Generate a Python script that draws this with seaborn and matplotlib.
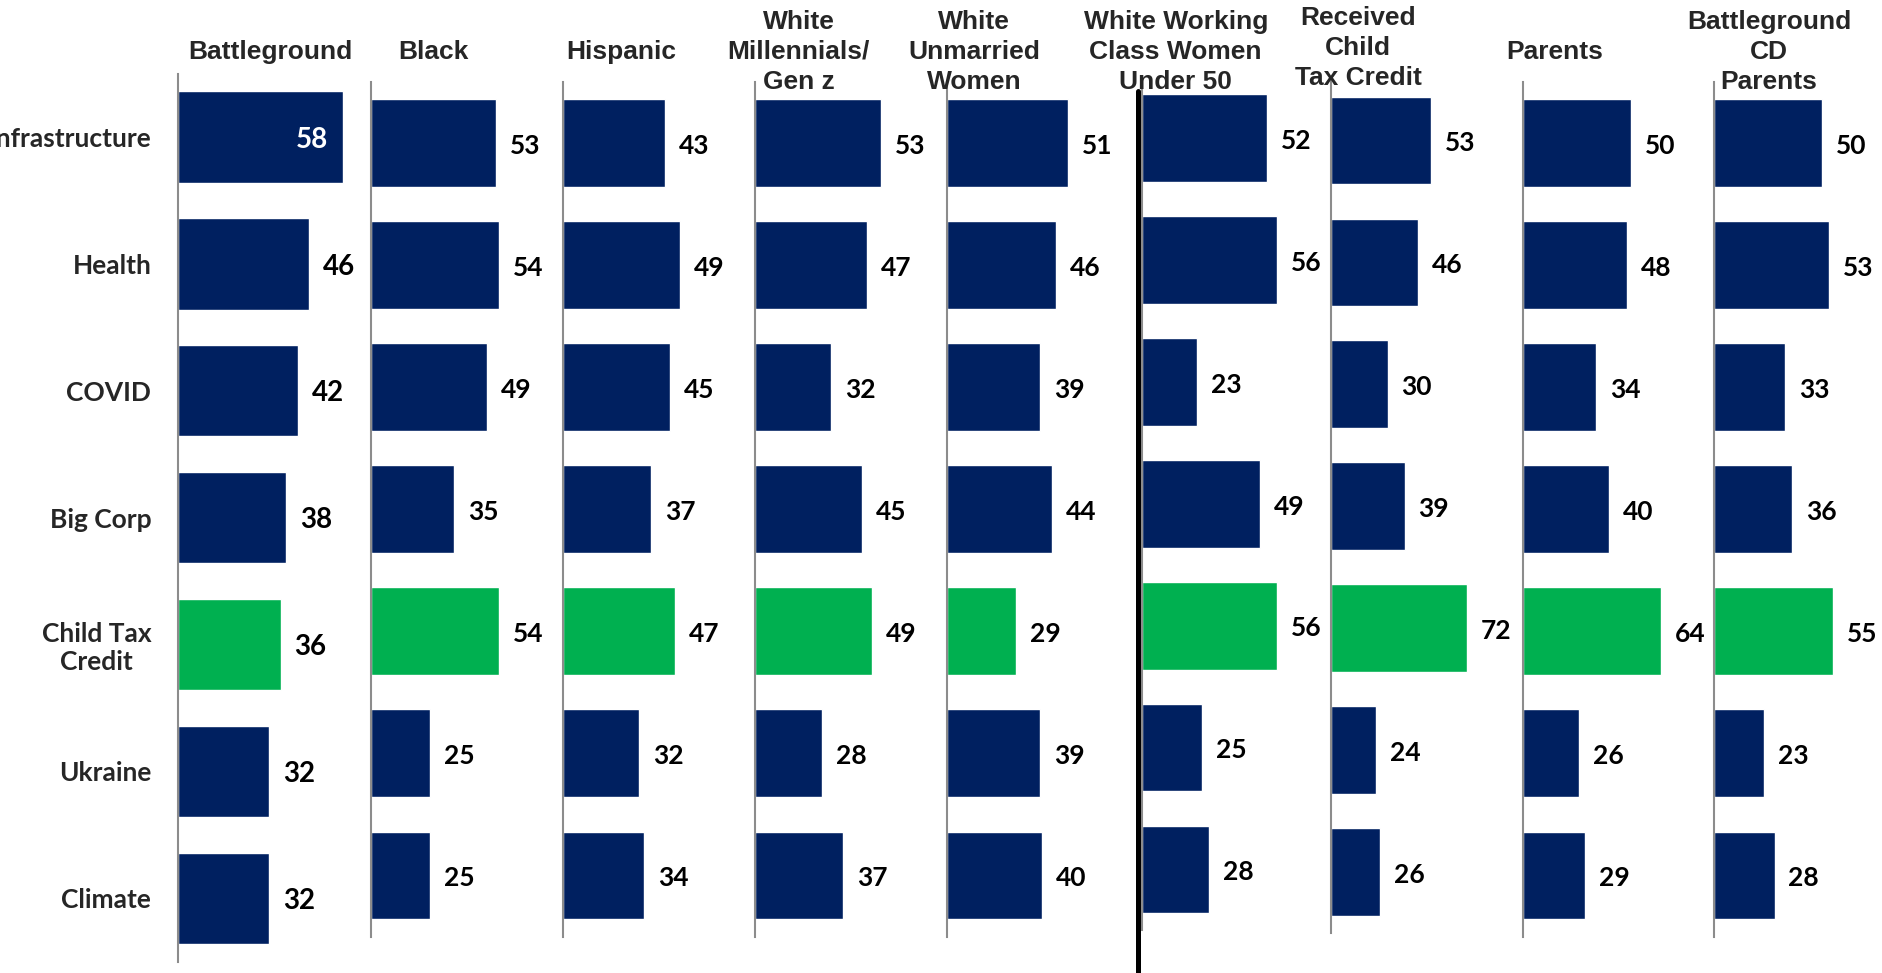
import numpy as np
import pandas as pd
import matplotlib
matplotlib.use("Agg")
from matplotlib import pyplot as plt
import seaborn as sns

# data
categories = ["Infrastructure", "Health", "COVID", "Big Corp", "Child Tax\nCredit", "Ukraine", "Climate"]
groups = ["Battleground", "Black", "Hispanic", "White\nMillennials/\nGen z", "White\nUnmarried\nWomen",
          "White Working\nClass Women\nUnder 50", "Received\nChild\nTax Credit", "Parents", "Battleground\nCD\nParents"]
battleground = [58, 46, 42, 38, 36, 32, 32]
black = [53, 54, 49, 35, 54, 25, 25]
hispanic = [43, 49, 45, 37, 47, 32, 34]
white_millennials = [53, 47, 32, 45, 49, 28, 37]
white_unmarried = [51, 46, 39, 44, 29, 39, 40]
wwc_women = [52, 56, 23, 49, 56, 25, 28]
received_ctc = [53, 46, 30, 39, 72, 24, 26]
parents = [50, 48, 34, 40, 64, 26, 29]
bg_cd_parents = [50, 53, 33, 36, 55, 23, 28]
series = [battleground, black, hispanic, white_millennials, white_unmarried,
          wwc_women, received_ctc, parents, bg_cd_parents]

NAVY = "#002060"
GREEN = "#00B050"
colors = [NAVY, NAVY, NAVY, NAVY, GREEN, NAVY, NAVY]

W, H = 1883, 973
# panel layout in pixels: axis x, px per unit, top, bottom, header x, header y
layout = [
    (177.7, 2.858, 73.5, 961.7, 270, 51.6),
    (371.1, 2.366, 81.9, 936.5, 433.5, 51.6),
    (563.2, 2.378, 81.9, 936.5, 620.9, 51.6),
    (755.4, 2.378, 81.9, 936.5, 798.6, 51.6),
    (947.5, 2.366, 81.9, 936.5, 974.0, 51.6),
    (1142.1, 2.402, 77.2, 930.4, 1175.7, 51.6),
    (1330.6, 1.897, 79.6, 932.8, 1358.0, 48.0),
    (1522.8, 2.162, 81.9, 936.5, 1555.0, 51.6),
    (1713.7, 2.174, 81.9, 936.5, 1769.0, 51.6),
]

sns.set_style("white")
plt.rcParams["font.family"] = ["Lato", "DejaVu Sans"]

fig = plt.figure(figsize=(W / 100, H / 100), dpi=100)
XMAX = 75

for k, (vals, (x0, ppu, top, bot, hx, hy)) in enumerate(zip(series, layout)):
    ax = fig.add_axes([x0 / W, 1 - bot / H, XMAX * ppu / W, (bot - top) / H])
    ax.patch.set_alpha(0)
    df = pd.DataFrame({"cat": categories, "val": vals})
    sns.barplot(data=df, x="val", y="cat", hue="cat", palette=colors, legend=False,
                orient="h", width=0.72, saturation=1, ax=ax)
    ax.set_xlim(0, XMAX)
    ax.set_ylim(6.5, -0.5)
    ax.set_xlabel("")
    ax.set_ylabel("")
    ax.set_xticks([])
    for s in ["top", "right", "bottom"]:
        ax.spines[s].set_visible(False)
    ax.spines["left"].set_color("#8c8c8c")
    ax.spines["left"].set_linewidth(1.5)
    fs = 19
    if k == 0:
        fs = 20
        ax.tick_params(axis="y", length=0, pad=19)
        for lab in ax.get_yticklabels():
            lab.set_fontsize(19)
            lab.set_fontweight("bold")
            lab.set_multialignment("center")
    else:
        ax.set_yticks([])
    for i, v in enumerate(vals):
        if k == 0 and i == 0:
            ax.annotate(str(v), (v, i), xytext=(-11, -2), textcoords="offset points",
                        ha="right", va="center", fontsize=fs, fontweight="bold", color="white")
        else:
            ax.annotate(str(v), (v, i), xytext=(10, -2), textcoords="offset points",
                        ha="left", va="center", fontsize=fs, fontweight="bold", color="black")
    fig.text(hx / W, 1 - hy / H, groups[k], ha="center", va="center", fontsize=19,
             fontweight="bold", family=["Liberation Sans", "DejaVu Sans"], linespacing=1.32)

# divider between the first five groups and the rest
fig.add_artist(plt.Line2D([1138 / W, 1138 / W], [0, 1 - 91 / H], color="black", linewidth=3.6))

fig.savefig("out.png", dpi=100)
